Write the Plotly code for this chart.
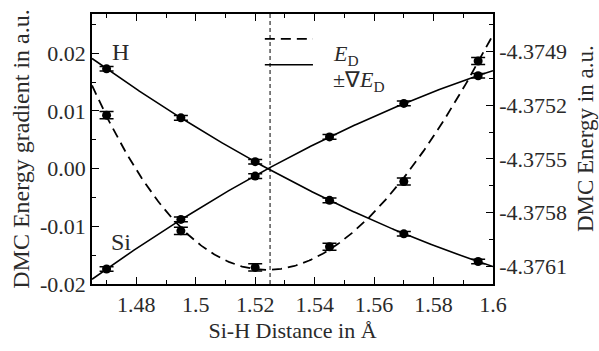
import numpy as np
import plotly.graph_objects as go

# Si-H bond lengths (Angstrom) of the DMC runs
distance = [1.47, 1.495, 1.52, 1.545, 1.57, 1.595]

# Force components on H and Si (a.u.), with statistical errors
grad_H = [0.0173, 0.0088, 0.0012, -0.0055, -0.0113, -0.0161]
grad_Si = [-0.0174, -0.0088, -0.0013, 0.0055, 0.0113, 0.0161]
grad_err = [0.0004, 0.0004, 0.0004, 0.0004, 0.0004, 0.0004]

# DMC total energies (a.u.), with statistical errors
energy = [-4.375256, -4.375901, -4.376105, -4.37599, -4.375626, -4.374954]
energy_err = [0.00002, 0.00002, 0.00002, 0.00002, 0.00002, 0.00002]

# Equilibrium distance from the energy fit
r_eq = 1.525

x_ticks = [1.48, 1.50, 1.52, 1.54, 1.56, 1.58, 1.60]
x_ticktext = ["1.48", "1.5", "1.52", "1.54", "1.56", "1.58", "1.6"]
y_ticks = [-0.02, -0.01, 0.0, 0.01, 0.02]
y_ticktext = ["-0.02", "-0.01", "0.00", "0.01", "0.02"]
y2_ticks = [-4.3761, -4.3758, -4.3755, -4.3752, -4.3749]
y2_ticktext = ["-4.3761", "-4.3758", "-4.3755", "-4.3752", "-4.3749"]

X_RANGE = [1.4651, 1.6]
Y_RANGE = [-0.02, 0.0268]
Y2_RANGE = [-4.3761975, -4.374692]

FONT = "Liberation Serif, Times New Roman, Times, serif"
TEXT = "#2a2a2a"

# smooth fits through the data
xf = np.linspace(X_RANGE[0], X_RANGE[1], 300)
fit_H = np.polyval(np.polyfit(distance, grad_H, 2), xf)
fit_Si = np.polyval(np.polyfit(distance, grad_Si, 2), xf)
fit_E = np.polyval(np.polyfit(np.array(distance) - 1.53, energy, 3), xf - 1.53)

fig = go.Figure()

line_solid = dict(color="black", width=1.6)
fig.add_trace(go.Scatter(x=xf, y=fit_H, mode="lines", line=line_solid, showlegend=False))
fig.add_trace(go.Scatter(x=xf, y=fit_Si, mode="lines", line=line_solid, showlegend=False))
fig.add_trace(go.Scatter(x=xf, y=fit_E, mode="lines", yaxis="y2",
                         line=dict(color="black", width=1.8, dash="10px,6px"),
                         showlegend=False))

marker = dict(color="black", size=9)
err = dict(type="data", width=7, thickness=1.5, color="black")
fig.add_trace(go.Scatter(x=distance, y=grad_H, mode="markers", marker=marker,
                         error_y=dict(err, array=grad_err), showlegend=False))
fig.add_trace(go.Scatter(x=distance, y=grad_Si, mode="markers", marker=marker,
                         error_y=dict(err, array=grad_err), showlegend=False))
fig.add_trace(go.Scatter(x=distance, y=energy, mode="markers", marker=marker, yaxis="y2",
                         error_y=dict(err, array=energy_err), showlegend=False))

# equilibrium marker line
fig.add_shape(type="line", xref="x", yref="paper", x0=r_eq, x1=r_eq, y0=0, y1=1,
              line=dict(color="black", width=1, dash="4px,3px"))

# legend drawn by hand
leg_x0, leg_x1 = 0.431, 0.551
leg_y = [0.908, 0.812]
fig.add_shape(type="line", xref="paper", yref="paper", x0=leg_x0, x1=leg_x1,
              y0=leg_y[0], y1=leg_y[0], line=dict(color="black", width=1.8, dash="10px,6px"))
fig.add_shape(type="line", xref="paper", yref="paper", x0=leg_x0, x1=leg_x1,
              y0=leg_y[1], y1=leg_y[1], line=dict(color="black", width=1.6))
fig.add_annotation(xref="paper", yref="paper", x=0.595, y=leg_y[0], xanchor="left",
                   text="<i>E</i><sub>D</sub>", showarrow=False,
                   font=dict(family=FONT, size=22, color=TEXT))
fig.add_annotation(xref="paper", yref="paper", x=0.595, y=leg_y[1], xanchor="left",
                   text="±∇<i>E</i><sub>D</sub>", showarrow=False,
                   font=dict(family=FONT, size=22, color=TEXT))

# atom labels
fig.add_annotation(x=1.4746, y=0.0203, text="H", showarrow=False,
                   font=dict(family=FONT, size=24, color=TEXT))
fig.add_annotation(x=1.4750, y=-0.0128, text="Si", showarrow=False,
                   font=dict(family=FONT, size=24, color=TEXT))

# right-hand axis title
fig.add_annotation(xref="paper", yref="paper", x=1.231, y=0.539, textangle=-90,
                   xanchor="center", yanchor="middle",
                   text="DMC Energy in a.u.", showarrow=False,
                   font=dict(family=FONT, size=23, color=TEXT))

axis_common = dict(showline=True, linecolor="black", linewidth=1.5, showgrid=False,
                   zeroline=False, ticks="inside", ticklen=7, tickwidth=1.2,
                   tickcolor="black", tickfont=dict(family=FONT, size=22, color=TEXT))

fig.update_layout(
    width=599, height=351,
    margin=dict(l=92, r=106, t=13, b=56),
    paper_bgcolor="white", plot_bgcolor="white",
    font=dict(family=FONT, color=TEXT),
    xaxis=dict(axis_common, range=X_RANGE, tickmode="array", tickvals=x_ticks,
               ticktext=x_ticktext, mirror="ticks",
               minor=dict(ticks="inside", ticklen=4, tickwidth=1.2, tickcolor="black",
                          tickvals=[1.47, 1.49, 1.51, 1.53, 1.55, 1.57, 1.59]),
               title=dict(text="Si-H Distance in Å", standoff=6,
                          font=dict(family=FONT, size=22, color=TEXT))),
    yaxis=dict(axis_common, range=Y_RANGE, tickmode="array", tickvals=y_ticks,
               ticktext=y_ticktext,
               minor=dict(ticks="inside", ticklen=4, tickwidth=1.2, tickcolor="black",
                          tickvals=[-0.015, -0.005, 0.005, 0.015, 0.025]),
               title=dict(text="DMC Energy gradient in a.u.", standoff=4,
                          font=dict(family=FONT, size=24, color=TEXT))),
    yaxis2=dict(axis_common, range=Y2_RANGE, overlaying="y", side="right",
                tickmode="array", tickvals=y2_ticks, ticktext=y2_ticktext,
                minor=dict(ticks="inside", ticklen=4, tickwidth=1.2, tickcolor="black",
                           tickvals=[-4.37595, -4.37565, -4.37535, -4.37505, -4.37475])),
)

fig.write_html("out.html")
